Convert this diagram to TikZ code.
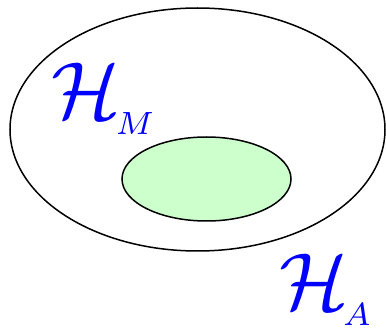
\documentclass[tikz,border=0pt]{standalone}
\usetikzlibrary{shapes.geometric}
\newcommand{\bigH}{\scalebox{1.5}[1.5]{$\mathcal{H}$}}
\newcommand{\subl}[1]{\kern-1pt\lower3pt\hbox{\scalebox{0.85}{$\scriptstyle #1$}}}
\begin{document}
\begin{tikzpicture}[x=1pt,y=-1pt,
  region/.style={ellipse,draw=black,line width=1.5pt,inner sep=0pt},
  lbl/.style={text=blue,inner sep=0pt,scale=5.4,transform shape}]
\useasboundingbox (0,0) rectangle (386,334);
\node[region,minimum width=375pt,minimum height=243pt] (outer) at (197.5,129.5) {};
\node[region,fill={rgb,255:red,204;green,255;blue,204},minimum width=169pt,minimum height=84pt] (inner) at (206.5,179) {};
\node[lbl] (hm) at (103,99) {$\bigH\subl{M}$};
\node[lbl] (ha) at (325,290) {$\bigH\subl{A}$};
\end{tikzpicture}
\end{document}
